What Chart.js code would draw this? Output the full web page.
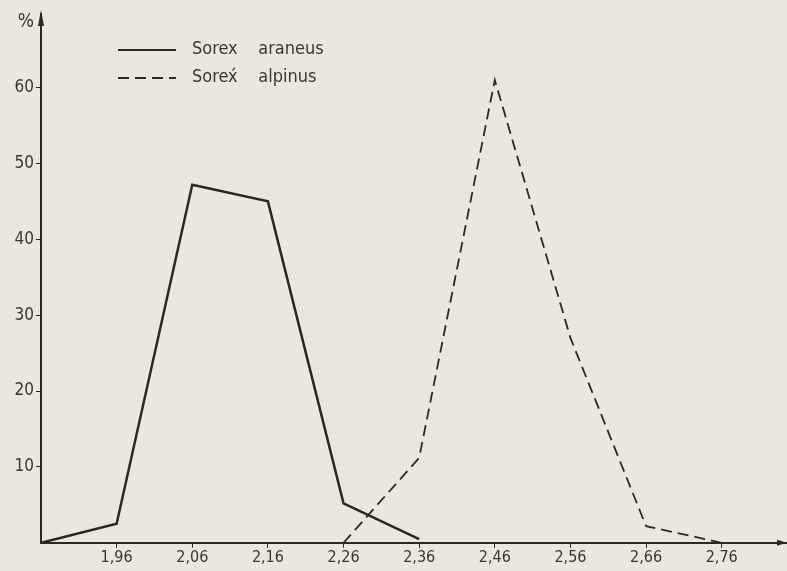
<!DOCTYPE html>
<html>
<head>
<meta charset="utf-8">
<script src="https://cdn.jsdelivr.net/npm/chart.js@4.4.1/dist/chart.umd.min.js"></script>
<style>
  html, body { margin: 0; padding: 0; background: #ebe7de; }
  #wrap { width: 787px; height: 571px; }
</style>
</head>
<body>
<div id="wrap"><canvas id="myChart" width="787" height="571"></canvas></div>
<script>
// skull width classes (x) and share of specimens in % (y)
var xTicks = [1.86, 1.96, 2.06, 2.16, 2.26, 2.36, 2.46, 2.56, 2.66, 2.76];
var yTicks = [10, 20, 30, 40, 50, 60];

var araneusX = [1.86, 1.96, 2.06, 2.16, 2.26, 2.36];
var araneusY = [0, 2.5, 47.2, 45, 5.2, 0.5];

var alpinusX = [2.26, 2.36, 2.46, 2.56, 2.66, 2.76];
var alpinusY = [0, 11.2, 61, 27, 2.2, 0];

var ink = '#2b2824';
var font = "'Liberation Sans Narrow', 'DejaVu Sans Condensed', sans-serif";

function pairs(xs, ys) {
    return xs.map(function(x, i) { return { x: x, y: ys[i] }; });
}

// axis arrows, "%" label and the hand drawn style legend
var decor = {
    id: 'decor',
    afterDraw: function(chart) {
        var ctx = chart.ctx;
        var a = chart.chartArea;
        ctx.save();
        ctx.fillStyle = ink;
        ctx.strokeStyle = ink;
        // y arrow
        ctx.beginPath();
        ctx.moveTo(a.left, a.top - 4);
        ctx.lineTo(a.left - 3, a.top + 12);
        ctx.lineTo(a.left + 3, a.top + 12);
        ctx.closePath();
        ctx.fill();
        // x arrow
        ctx.beginPath();
        ctx.moveTo(a.right + 1, a.bottom);
        ctx.lineTo(a.right - 9, a.bottom - 3);
        ctx.lineTo(a.right - 9, a.bottom + 3);
        ctx.closePath();
        ctx.fill();

        ctx.font = '19px ' + font;
        ctx.textAlign = 'right';
        ctx.textBaseline = 'middle';
        ctx.fillStyle = '#3a3631';
        ctx.fillText('%', a.left - 7, a.top + 8);

        // legend
        var ds = chart.data.datasets;
        ctx.textAlign = 'left';
        ctx.font = '18px ' + font;
        ds.forEach(function(d, i) {
            var y = 50 + i * 28;
            ctx.lineWidth = 2;
            ctx.setLineDash(d.borderDash || []);
            ctx.beginPath();
            ctx.moveTo(118, y);
            ctx.lineTo(176, y);
            ctx.stroke();
            ctx.setLineDash([]);
            ctx.fillText(d.label, 192, y - 1);
        });
        ctx.restore();
    }
};

var ctx = document.getElementById('myChart').getContext('2d');
var myChart = new Chart(ctx, {
    type: 'line',
    data: {
        datasets: [{
            label: 'Sorex    araneus',
            data: pairs(araneusX, araneusY),
            borderColor: ink,
            borderWidth: 2.5,
            pointRadius: 0,
            tension: 0,
            fill: false
        }, {
            label: 'Sorex\u0301    alpinus',
            data: pairs(alpinusX, alpinusY),
            borderColor: ink,
            borderWidth: 1.8,
            borderDash: [11, 6],
            pointRadius: 0,
            tension: 0,
            fill: false
        }]
    },
    options: {
        responsive: false,
        animation: false,
        layout: { padding: { top: 14, right: 1, left: 0, bottom: 4 } },
        plugins: {
            legend: { display: false },
            tooltip: { enabled: false }
        },
        scales: {
            x: {
                type: 'linear',
                min: 1.86,
                max: 2.845,
                afterBuildTicks: function(axis) {
                    axis.ticks = xTicks.map(function(v) { return { value: v }; });
                },
                grid: {
                    drawOnChartArea: false,
                    drawTicks: true,
                    tickLength: 5,
                    color: function(c) { return c.index === 0 ? 'rgba(0,0,0,0)' : ink; }
                },
                border: { color: ink, width: 2 },
                ticks: {
                    color: '#3a3631',
                    font: { family: font, size: 16 },
                    padding: 0,
                    maxRotation: 0,
                    autoSkip: false,
                    callback: function(v) {
                        if (Math.abs(v - 1.86) < 0.001) return '';
                        return v.toFixed(2).replace('.', ',');
                    }
                }
            },
            y: {
                min: 0,
                max: 69.7,
                afterBuildTicks: function(axis) {
                    axis.ticks = yTicks.map(function(v) { return { value: v }; });
                },
                grid: {
                    drawOnChartArea: false,
                    drawTicks: true,
                    tickLength: 5,
                    color: ink
                },
                border: { color: ink, width: 2 },
                ticks: {
                    color: '#3a3631',
                    font: { family: font, size: 17 },
                    padding: 2
                },
                afterFit: function(scale) { scale.width = 41; }
            }
        }
    },
    plugins: [decor]
});
</script>
</body>
</html>
